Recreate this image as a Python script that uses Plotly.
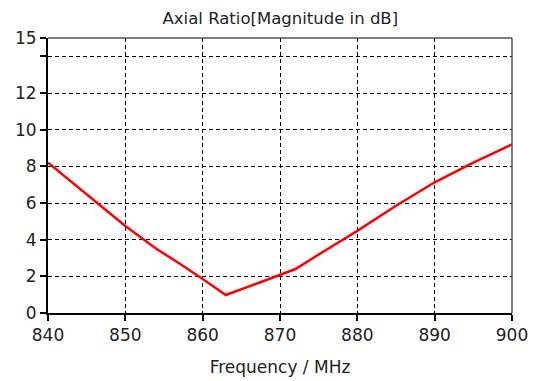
import plotly.graph_objects as go

freq = [840, 845, 850, 854, 857, 860, 863, 866, 870, 872, 876, 880, 885, 890, 895, 900]
axial_ratio = [8.2, 6.45, 4.75, 3.5, 2.7, 1.85, 0.98, 1.45, 2.07, 2.4, 3.45, 4.48, 5.85, 7.13, 8.2, 9.2]

y_tickvals = [0, 2, 4, 6, 8, 10, 12, 14, 15]
y_ticktext = ["0", "2", "4", "6", "8", "10", "12", "", "15"]
x_tickvals = [840, 850, 860, 870, 880, 890, 900]

fig = go.Figure()
fig.add_trace(go.Scatter(x=freq, y=axial_ratio, mode="lines",
                         line=dict(color="#ff0000", width=2.5), showlegend=False))

font = "DejaVu Sans"
fig.update_layout(
    width=534, height=381,
    margin=dict(l=48, r=22, t=38, b=68),
    paper_bgcolor="white", plot_bgcolor="white",
    title=dict(text="Axial Ratio[Magnitude in dB]", x=0.525, xanchor="center",
               y=1 - 18 / 381, yanchor="middle",
               font=dict(family=font, size=16.5, color="#222")),
    xaxis=dict(range=[840, 900], tickvals=x_tickvals, automargin=False,
               showgrid=True, gridcolor="black", griddash="4px,3px", gridwidth=1.2,
               showline=True, linecolor="black", linewidth=2, mirror=False,
               ticks="outside", ticklen=6, tickcolor="black", tickwidth=1.5,
               tickfont=dict(family=font, size=17, color="#222"),
               title=dict(text="Frequency / MHz", standoff=17,
                          font=dict(family=font, size=17, color="#222")),
               zeroline=False),
    yaxis=dict(range=[0, 15], tickvals=y_tickvals, ticktext=y_ticktext, automargin=False,
               showgrid=True, gridcolor="black", griddash="4px,3px", gridwidth=1.2,
               showline=True, linecolor="black", linewidth=2,
               ticks="outside", ticklen=6, tickcolor="black", tickwidth=1.5,
               tickfont=dict(family=font, size=17, color="#222"),
               zeroline=False),
)
# top and right frame
fig.add_shape(type="line", xref="paper", yref="paper", x0=0, x1=1, y0=1, y1=1,
              line=dict(color="#555", width=1.5))
fig.add_shape(type="line", xref="paper", yref="paper", x0=1, x1=1, y0=0, y1=1,
              line=dict(color="#555", width=1.5))

fig.write_html("out.html")
